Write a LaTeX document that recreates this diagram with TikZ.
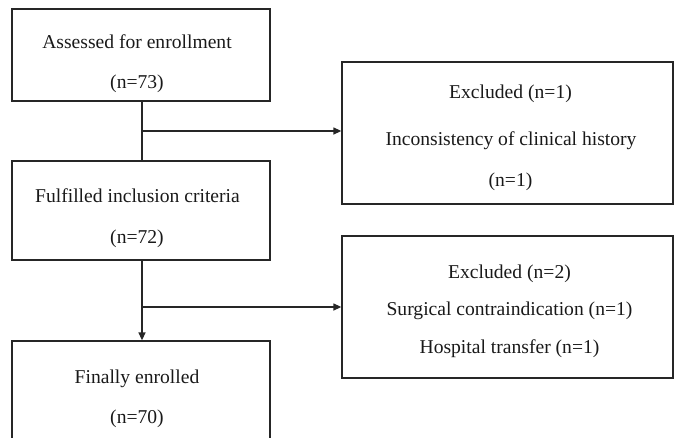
\documentclass[tikz,border=0pt]{standalone}
\usepackage{fontspec}
\setmainfont{Liberation Serif}
\usetikzlibrary{arrows.meta,calc}
\begin{document}
\begin{tikzpicture}[x=1pt,y=-1pt,
  box/.style={draw=black!85,line width=1.3pt,inner sep=0pt},
  txt/.style={anchor=base,inner sep=0pt,font=\fontsize{19.6}{23}\selectfont,text=black!90},
  conn/.style={draw=black!85,line width=1.3pt},
  arr/.style={conn,-{Triangle[length=8pt,width=7pt]}}]
\useasboundingbox (0,0) rectangle (675,437);
\clip (0,0) rectangle (675,437);
\node[box,minimum width=258pt,minimum height=92pt] (a) at (141,55) {};
\node[box,minimum width=258pt,minimum height=99pt] (b) at (141,210.5) {};
\node[box,minimum width=258pt,minimum height=130pt] (c) at (141,406) {};
\node[box,minimum width=331pt,minimum height=142pt] (e1) at (507.5,133) {};
\node[box,minimum width=331pt,minimum height=142pt] (e2) at (507.5,307) {};
\node[txt] (a1) at (137,48) {Assessed for enrollment};
\node[txt] (a2) at (137,88) {(n=73)};
\node[txt] (b1) at (137.5,202) {Fulfilled inclusion criteria};
\node[txt] (b2) at (137,243) {(n=72)};
\node[txt] (c1) at (137,383) {Finally enrolled};
\node[txt] (c2) at (137,423) {(n=70)};
\node[txt] (e11) at (510.5,98) {Excluded (n=1)};
\node[txt] (e12) at (511,145) {Inconsistency of clinical history};
\node[txt] (e13) at (510.5,186) {(n=1)};
\node[txt] (e21) at (509.5,278) {Excluded (n=2)};
\node[txt] (e22) at (509.5,315) {Surgical contraindication (n=1)};
\node[txt] (e23) at (509.5,353) {Hospital transfer (n=1)};
\coordinate (j1) at (142,131);
\coordinate (j2) at (142,307);
\draw[conn] (a.south -| j1) -- (b.north -| j1);
\draw[arr] (j1) -- (j1 -| e1.west);
\draw[arr] (b.south -| j2) -- (c.north -| j2);
\draw[arr] (j2) -- (j2 -| e2.west);
\end{tikzpicture}
\end{document}
